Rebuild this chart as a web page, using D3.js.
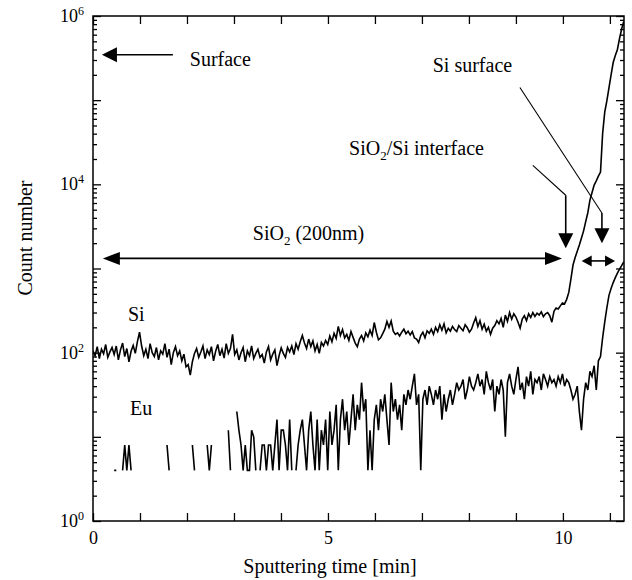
<!DOCTYPE html>
<html>
<head>
<meta charset="utf-8">
<script src="https://cdn.jsdelivr.net/npm/d3@7"></script>
<style>
  body { margin: 0; background: #fff; }
  svg, svg text { font-family: "Liberation Serif", "Times New Roman", Times, "DejaVu Serif", serif; }
  text { fill: #000; }
</style>
</head>
<body>
<svg width="632" height="580" font-family="Liberation Serif, Times New Roman, serif"></svg>
<script>
// sampling interval of the depth profile [min]
const STEP = 0.045;

// Si counts, one value per sample (10 per row = 0.45 min)
const siCounts = [
  105, 92, 118, 85, 110, 97, 125, 88, 102, 115,
  95, 120, 82, 108, 130, 90, 112, 78, 104, 122,
  98, 135, 175, 120, 92, 110, 85, 128, 100, 90,
  115, 82, 105, 96, 128, 88, 110, 72, 100, 118,
  92, 105, 80, 96, 68, 72, 54, 78, 98, 112,
  88, 102, 120, 85, 108, 95, 118, 80, 104, 125,
  92, 110, 86, 128, 98, 112, 165, 95, 108, 82,
  100, 115, 78, 105, 92, 120, 85, 98, 110, 88,
  95, 75, 102, 118, 82, 96, 108, 70, 92, 114,
  98, 88, 115, 102, 120, 95, 128, 110, 135, 160,
  130, 112, 145, 118, 138, 105, 125, 98, 132, 120,
  140, 125, 158, 135, 170, 148, 205, 160, 188, 150,
  165, 140, 178, 152, 130, 118, 145, 160, 138, 172,
  155, 185, 160, 228, 175, 142, 150, 168, 190, 235,
  200, 238, 180, 165, 172, 158, 175, 190, 168, 180,
  162, 178, 150, 145, 132, 160, 175, 150, 182, 170,
  190, 165, 200, 178, 215, 185, 220, 172, 195, 180,
  205, 188, 178, 210, 195, 182, 215, 198, 175, 190,
  225, 260, 205, 240, 190, 218, 180, 200, 165, 195,
  210, 240, 220, 255, 200, 280, 235, 300, 250, 290,
  265, 230, 195, 250, 275, 240, 290, 262, 300, 270,
  295, 280, 305, 268, 290, 300, 275, 230, 310, 340,
  330, 360, 390, 380, 430, 520, 750, 1100, 1350, 1600,
  1900, 2300, 2800, 3600, 4600, 6500, 8000, 9800, 11000, 12500,
  14000, 40000, 72000, 98000, 140000, 200000, 280000, 340000, 400000, 540000,
  700000, 860000
];

// Eu counts (0 = nothing detected, left as a gap on the log axis)
const euCounts = [
  0, 0, 0, 0, 0, 0, 0, 0, 0, 0,
  4, 4, 0, 0, 4, 8, 4, 8, 4, 0,
  0, 0, 0, 0, 0, 0, 0, 0, 0, 0,
  0, 0, 0, 0, 0, 8, 4, 0, 0, 0,
  0, 0, 0, 0, 0, 0, 0, 8, 4, 0,
  0, 0, 0, 0, 8, 4, 8, 0, 0, 0,
  0, 0, 0, 0, 12, 4, 0, 0, 20, 12,
  8, 4, 8, 4, 4, 12, 10, 4, 0, 4,
  8, 8, 4, 8, 8, 4, 8, 16, 4, 12,
  12, 8, 4, 16, 4, 0, 4, 8, 12, 16,
  8, 4, 12, 20, 8, 4, 16, 4, 12, 8,
  16, 4, 20, 8, 12, 24, 4, 16, 28, 12,
  20, 8, 16, 32, 12, 24, 16, 44, 20, 28,
  4, 12, 4, 16, 24, 12, 28, 20, 32, 16,
  8, 44, 20, 28, 16, 24, 12, 32, 24, 36,
  28, 40, 56, 24, 32, 4, 28, 36, 24, 40,
  32, 24, 36, 28, 40, 16, 32, 20, 28, 36,
  24, 32, 44, 36, 40, 48, 28, 36, 52, 40,
  36, 44, 56, 40, 48, 32, 60, 44, 36, 48,
  20, 40, 32, 48, 36, 10, 44, 56, 40, 32,
  48, 68, 36, 44, 28, 52, 40, 60, 32, 48,
  44, 52, 36, 56, 48, 40, 52, 44, 48, 40,
  52, 44, 56, 40, 48, 44, 36, 28, 32, 40,
  20, 12, 28, 44, 36, 60, 52, 70, 36, 80,
  90, 150, 230, 340, 480, 580, 680, 780, 880, 980,
  1080, 1200
];

const xTicks = [0, 1, 2, 3, 4, 5, 6, 7, 8, 9, 10, 11];
const xTickLabels = [0, 5, 10];
const yDecades = [0, 1, 2, 3, 4, 5, 6];
const yLabelExps = [0, 2, 4, 6];

// annotation anchors in data units (time [min], log10 count)
const surfaceArrow = { from: 1.70, to: 0.19, lg: 5.54 };
const oxideArrow = { from: 0.21, to: 9.98, lg: 3.12 };
const siArrow = { from: 10.40, to: 11.11, lg: 3.09 };
const interfaceLeader = [[9.36, 4.225], [10.06, 3.87], [10.06, 3.24]];
const siSurfaceLeader = [[9.085, 5.15], [10.83, 3.66], [10.83, 3.30]];

const FONT = "Liberation Serif, Times New Roman, serif";
const svg = d3.select("svg");
const margin = { top: 16, right: 8, bottom: 59, left: 93 };
const W = 632 - margin.left - margin.right;
const H = 580 - margin.top - margin.bottom;

const x = d3.scaleLinear().domain([0, 11.3]).range([margin.left, margin.left + W]);
const y = d3.scaleLog().domain([1, 1e6]).range([margin.top + H, margin.top]);
const yl = lg => y(Math.pow(10, lg));

const minorVals = [];
yDecades.slice(0, -1).forEach(e => {
  for (let m = 2; m <= 9; m++) minorVals.push(m * Math.pow(10, e));
});
const majorVals = yDecades.map(e => Math.pow(10, e));

// ticks: all pointing into the box
function styleAxis(g) {
  g.attr("font-family", FONT);
  g.select(".domain").remove();
  g.selectAll("line").attr("stroke", "#000").attr("stroke-width", 1.3);
}
svg.append("g").attr("transform", `translate(0,${margin.top + H})`)
  .call(d3.axisBottom(x).tickValues(xTicks).tickSize(-8).tickPadding(10)
    .tickFormat(d => xTickLabels.includes(d) ? d : ""))
  .call(styleAxis)
  .call(g => g.selectAll("text").attr("font-size", 18));
svg.append("g").attr("transform", `translate(0,${margin.top})`)
  .call(d3.axisTop(x).tickValues(xTicks).tickSize(-8).tickFormat(""))
  .call(styleAxis);
[[d3.axisLeft, margin.left], [d3.axisRight, margin.left + W]].forEach(([ax, px]) => {
  svg.append("g").attr("transform", `translate(${px},0)`)
    .call(ax(y).tickValues(majorVals).tickSize(-8).tickFormat(""))
    .call(styleAxis);
  svg.append("g").attr("transform", `translate(${px},0)`)
    .call(ax(y).tickValues(minorVals).tickSize(-4).tickFormat(""))
    .call(styleAxis);
});

// frame
svg.append("rect")
  .attr("x", margin.left).attr("y", margin.top).attr("width", W).attr("height", H)
  .attr("fill", "none").attr("stroke", "#000").attr("stroke-width", 1.5);

// y labels 10^n
yLabelExps.forEach(e => {
  const t = svg.append("text")
    .attr("x", margin.left - 9).attr("y", yl(e) + 6)
    .attr("text-anchor", "end").attr("font-size", 18);
  t.append("tspan").text("10");
  t.append("tspan").attr("dy", -7).attr("font-size", 12).text(e);
});

// axis titles
svg.append("text").attr("x", 330).attr("y", 573).attr("text-anchor", "middle")
  .attr("font-size", 20).text("Sputtering time [min]");
svg.append("text").attr("transform", "translate(32,238) rotate(-90)")
  .attr("text-anchor", "middle").attr("font-size", 20).text("Count number");

// data
svg.append("clipPath").attr("id", "plot").append("rect")
  .attr("x", margin.left).attr("y", margin.top).attr("width", W).attr("height", H);

const line = d3.line()
  .defined(d => d > 0)
  .x((d, i) => x(i * STEP))
  .y(d => y(d));

[siCounts, euCounts].forEach(series => {
  svg.append("path")
    .datum(series)
    .attr("clip-path", "url(#plot)")
    .attr("fill", "none")
    .attr("stroke", "#000")
    .attr("stroke-width", 1.6)
    .attr("d", line);
});

// annotations
function head(tx, ty, dir, len, half) {
  let pts;
  if (dir === "left") pts = [[tx, ty], [tx + len, ty - half], [tx + len, ty + half]];
  else if (dir === "right") pts = [[tx, ty], [tx - len, ty - half], [tx - len, ty + half]];
  else pts = [[tx, ty], [tx - half, ty - len], [tx + half, ty - len]];
  svg.append("path").attr("d", "M" + pts.join("L") + "Z").attr("fill", "#000");
}
function seg(pts, w) {
  svg.append("path").attr("d", d3.line()(pts))
    .attr("fill", "none").attr("stroke", "#000").attr("stroke-width", w);
}

// Surface
seg([[x(surfaceArrow.from), yl(surfaceArrow.lg)], [x(surfaceArrow.to) + 10, yl(surfaceArrow.lg)]], 1.6);
head(x(surfaceArrow.to), yl(surfaceArrow.lg), "left", 15, 7.5);
// SiO2 thickness
seg([[x(oxideArrow.from) + 10, yl(oxideArrow.lg)], [x(oxideArrow.to) - 10, yl(oxideArrow.lg)]], 1.6);
head(x(oxideArrow.from), yl(oxideArrow.lg), "left", 17, 6.5);
head(x(oxideArrow.to), yl(oxideArrow.lg), "right", 17, 6.5);
// Si region
seg([[x(siArrow.from) + 6, yl(siArrow.lg)], [x(siArrow.to) - 6, yl(siArrow.lg)]], 1.6);
head(x(siArrow.from), yl(siArrow.lg), "left", 10, 5.5);
head(x(siArrow.to), yl(siArrow.lg), "right", 10, 5.5);
// leaders with down arrows
[interfaceLeader, siSurfaceLeader].forEach(L => {
  const p = L.map(([t, lg]) => [x(t), yl(lg)]);
  seg(p.slice(0, 2), 1.1);
  seg([p[1], [p[2][0], p[2][1] - 10]], 1.6);
  head(p[2][0], p[2][1], "down", 15, 7.5);
});

// labels; parts flagged true are subscripts
function label(t, lg, parts) {
  const el = svg.append("text").attr("x", x(t)).attr("y", yl(lg)).attr("font-size", 20);
  let shifted = false;
  parts.forEach(([s, sub]) => {
    const ts = el.append("tspan").text(s);
    if (sub) { ts.attr("dy", 5).attr("font-size", 13); shifted = true; }
    else if (shifted) { ts.attr("dy", -5); shifted = false; }
  });
}
label(2.06, 5.41, [["Surface"]]);
label(7.23, 5.33, [["Si surface"]]);
label(5.45, 4.345, [["SiO"], ["2", true], ["/Si interface"]]);
label(3.40, 3.335, [["SiO"], ["2", true], [" (200nm)"]]);
label(0.745, 2.374, [["Si"]]);
label(0.787, 1.258, [["Eu"]]);
</script>
</body>
</html>
